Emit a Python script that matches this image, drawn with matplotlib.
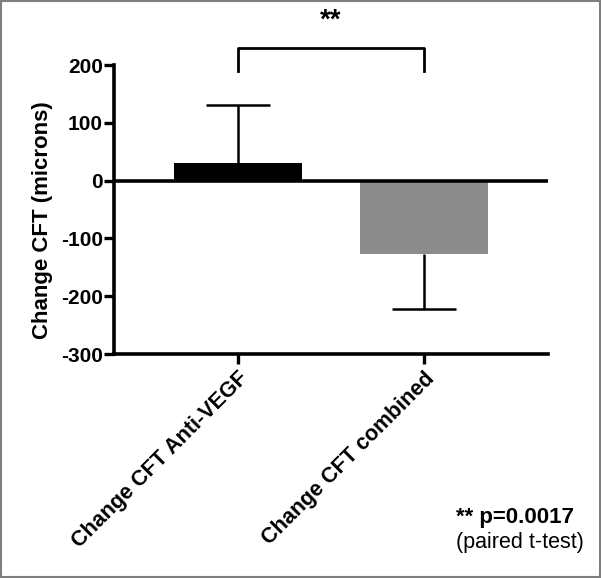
import matplotlib
matplotlib.use('Agg')
import matplotlib.pyplot as plt
from matplotlib.patches import Rectangle

# Data
groups = ['Change CFT Anti-VEGF', 'Change CFT combined']
means = [30, -127]
sds = [100, 95]
colors = ['#000000', '#8c8c8c']
y_ticks = [-300, -200, -100, 0, 100, 200]
sig_label = '**'
p_text = '** p=0.0017'
test_text = '(paired t-test)'

plt.rcParams['font.family'] = ['Liberation Sans', 'DejaVu Sans']
plt.rcParams['axes.unicode_minus'] = False

fig = plt.figure(figsize=(6.01, 5.78), dpi=100)
ax = fig.add_axes([0.1897, 0.3875, 0.7223, 0.5])

x = list(range(len(groups)))
ax.bar(x, means, width=0.69, color=colors, zorder=2)

# one-sided error bars (away from zero)
tips = [m + s if m >= 0 else m - s for m, s in zip(means, sds)]
ax.vlines(x, means, tips, color='black', linewidth=1.8, zorder=1)
ax.hlines(tips, [xi - 0.17 for xi in x], [xi + 0.17 for xi in x],
          color='black', linewidth=1.8, zorder=1)

# zero line
ax.axhline(0, color='black', linewidth=2.6, zorder=3)

ax.set_xlim(-0.667, 1.667)
ax.set_ylim(-300, 200)
ax.set_yticks(y_ticks)
ax.set_xticks(x)
ax.set_xticklabels(groups, rotation=45, ha='right', rotation_mode='anchor',
                   fontsize=15.5, fontweight='bold')
for lbl in ax.get_yticklabels():
    lbl.set_fontsize(15)
    lbl.set_fontweight('bold')
ax.tick_params(axis='both', width=2.4, length=7, direction='out')
ax.tick_params(axis='y', pad=1)
ax.tick_params(axis='x', pad=3)

for side in ['top', 'right']:
    ax.spines[side].set_visible(False)
for side in ['left', 'bottom']:
    ax.spines[side].set_linewidth(2.6)

ax.set_ylabel('Change CFT (microns)', fontsize=16, fontweight='bold')
ax.yaxis.set_label_coords(-0.14, 0.465)

# significance bracket
ax.plot([x[0], x[0], x[1], x[1]], [190, 230, 230, 190], color='black',
        linewidth=2, clip_on=False)
ax.text((x[0] + x[1]) / 2, 276, sig_label, ha='center', va='center',
        fontsize=20, fontweight='bold', clip_on=False)

fig.text(0.759, 0.1055, p_text, ha='left', va='center', fontsize=16, fontweight='bold')
fig.text(0.759, 0.062, test_text, ha='left', va='center', fontsize=15.5)

# frame around figure
fig.patches.append(Rectangle((0.002, 0.002), 0.996, 0.996, transform=fig.transFigure,
                             fill=False, edgecolor='#7f7f7f', linewidth=1.5))

plt.savefig('out.png', dpi=100)
